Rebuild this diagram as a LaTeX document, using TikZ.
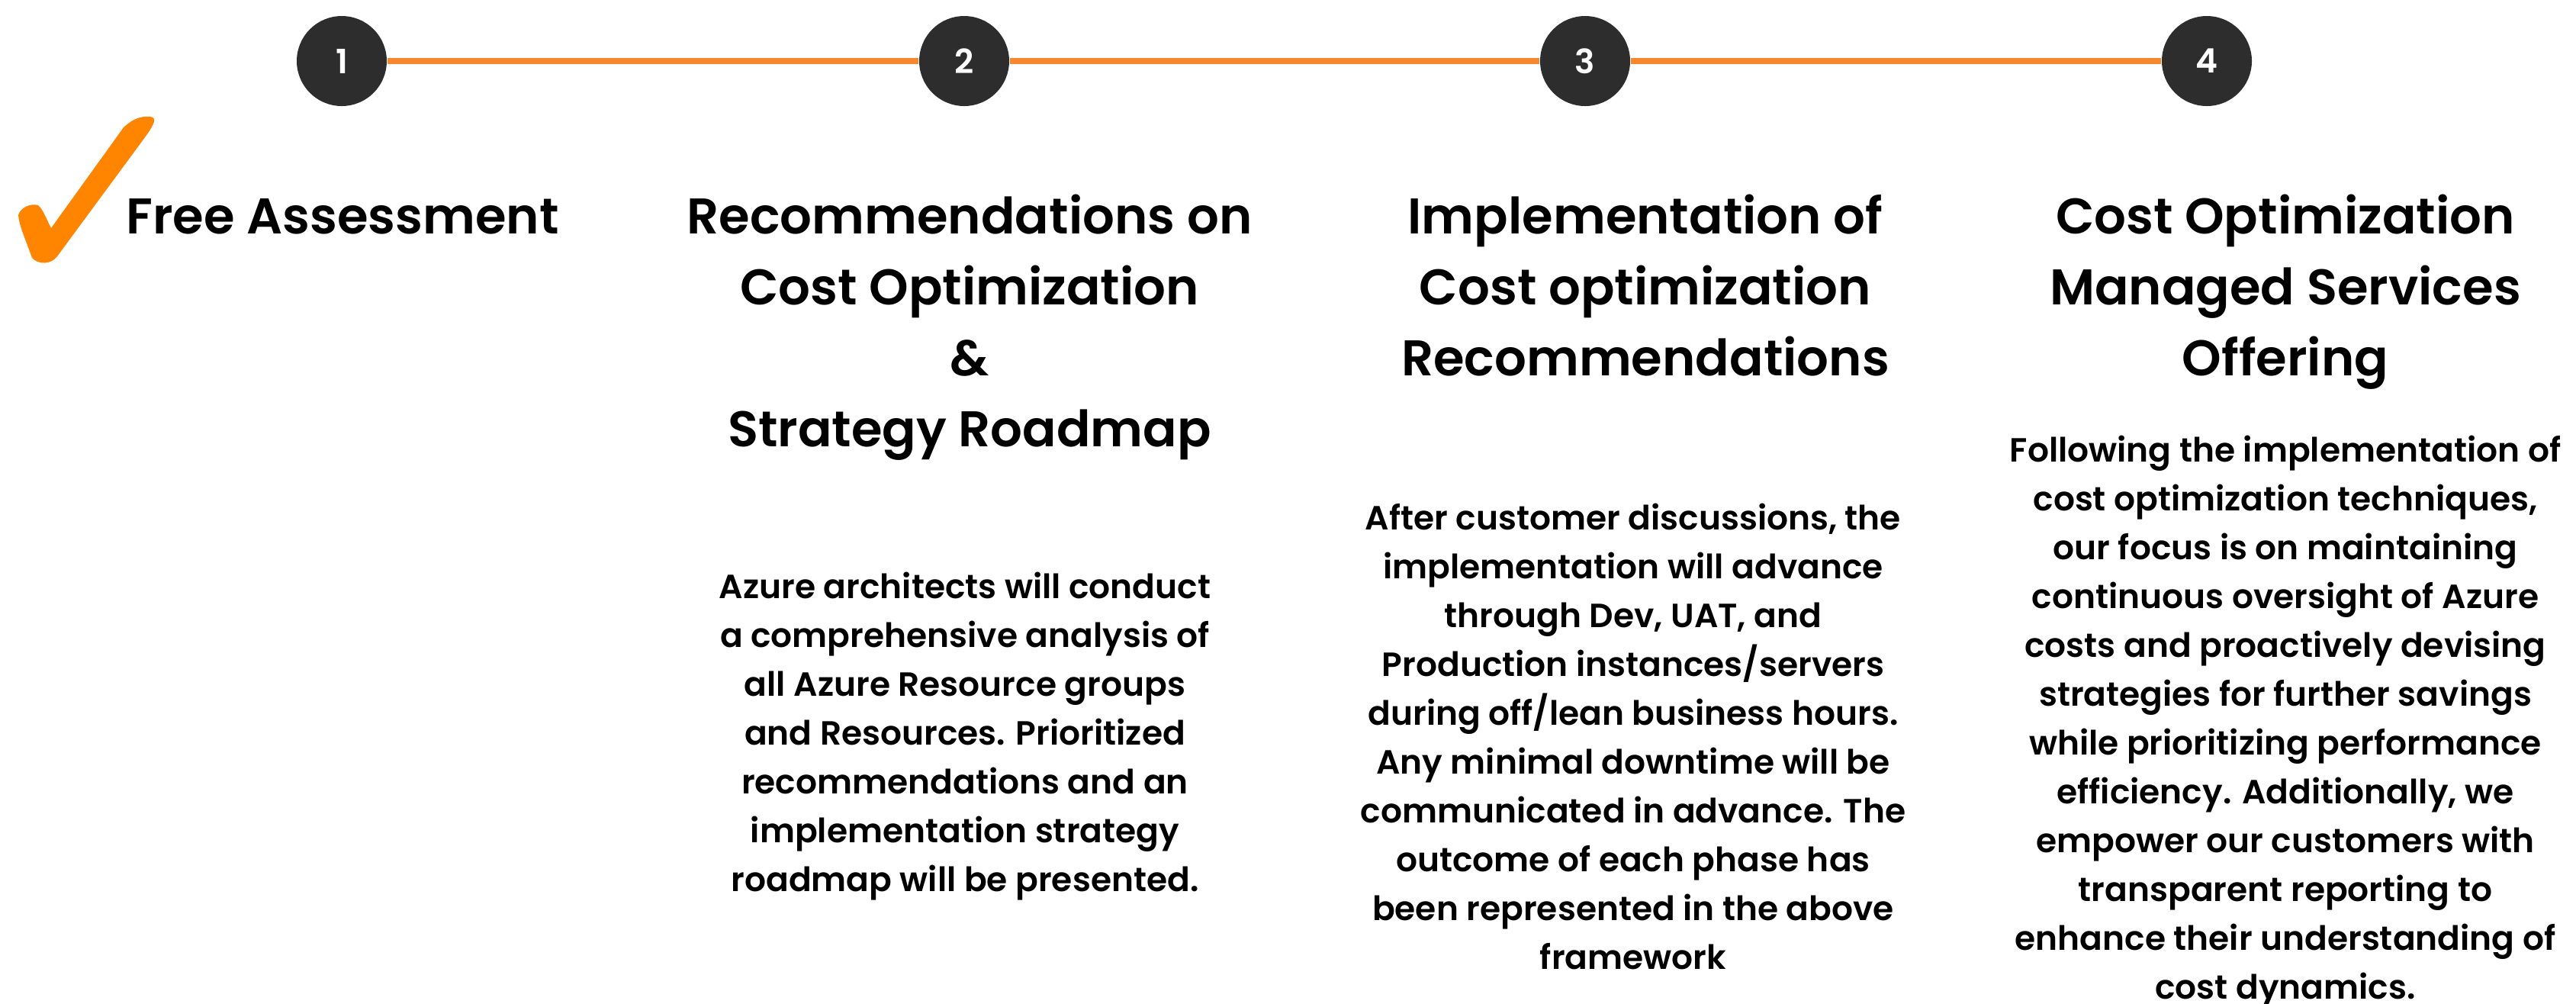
\documentclass[tikz,border=0pt]{standalone}
\usepackage{fontspec}
\setmainfont{Poppins SemiBold}
\definecolor{lineorange}{HTML}{F7882F}
\definecolor{tickorange}{HTML}{FF8400}
\definecolor{dotgrey}{HTML}{2D2D2D}
\begin{document}
\begin{tikzpicture}[
	stepdot/.style={circle,fill=dotgrey,minimum size=1.18cm,inner sep=0pt,text=white,font=\fontsize{12.5}{15}\selectfont},
	heading/.style={anchor=base,align=center,inner sep=0pt,font=\fontsize{18.7}{26.5}\selectfont},
	blurb/.style={anchor=base,align=center,inner sep=0pt,font=\fontsize{12.5}{18.2}\selectfont}]
	\useasboundingbox (0,0) rectangle (33.77,-13.15);
	
	\node[stepdot] (s1) at (4.48,-0.8) {1};
		\node[stepdot] (s2) at (12.64,-0.8) {2};
		\node[stepdot] (s3) at (20.78,-0.8) {3};
		\node[stepdot] (s4) at (28.93,-0.8) {4};
		
						\draw[lineorange,line width=0.075cm] (s1) -- (s2);
						\draw[lineorange,line width=0.075cm] (s2) -- (s3);
						\draw[lineorange,line width=0.075cm] (s3) -- (s4);

	% tick
	\fill[tickorange] (1.62,-1.67) .. controls (1.75,-1.55) and (1.85,-1.52) .. (1.97,-1.53)
		.. controls (2.06,-1.54) and (2.03,-1.62) .. (1.90,-1.80)
		-- (0.75,-3.36) .. controls (0.67,-3.47) and (0.50,-3.47) .. (0.42,-3.38)
		.. controls (0.32,-3.10) and (0.25,-2.95) .. (0.24,-2.82)
		.. controls (0.27,-2.72) and (0.40,-2.66) .. (0.50,-2.69)
		.. controls (0.56,-2.74) and (0.60,-2.85) .. (0.67,-2.99) -- cycle;

	% base anchor sits on the last line
	\node[heading] (t1) at (4.49,-3.06) {Free Assessment};
	\node[heading] (t2) at (12.71,-5.856) {Recommendations on\\Cost Optimization\\\&\\Strategy Roadmap};
	\node[heading] (t3) at (21.57,-4.924) {Implementation of\\Cost optimization\\Recommendations};
	\node[heading] (t4) at (29.96,-4.924) {Cost Optimization\\Managed Services\\Offering};

	\node[blurb] (b2) at (12.65,-11.68) {Azure architects will conduct\\a comprehensive analysis of\\all Azure Resource groups\\and Resources. Prioritized\\recommendations and an\\implementation strategy\\roadmap will be presented.};
	\node[blurb] (b3) at (21.41,-12.70) {After customer discussions, the\\implementation will advance\\through Dev, UAT, and\\Production instances/servers\\during off/lean business hours.\\Any minimal downtime will be\\communicated in advance. The\\outcome of each phase has\\been represented in the above\\framework};
	\node[blurb] (b4) at (29.96,-13.09) {Following the implementation of\\cost optimization techniques,\\our focus is on maintaining\\continuous oversight of Azure\\costs and proactively devising\\strategies for further savings\\while prioritizing performance\\efficiency. Additionally, we\\empower our customers with\\transparent reporting to\\enhance their understanding of\\cost dynamics.};
\end{tikzpicture}
\end{document}
